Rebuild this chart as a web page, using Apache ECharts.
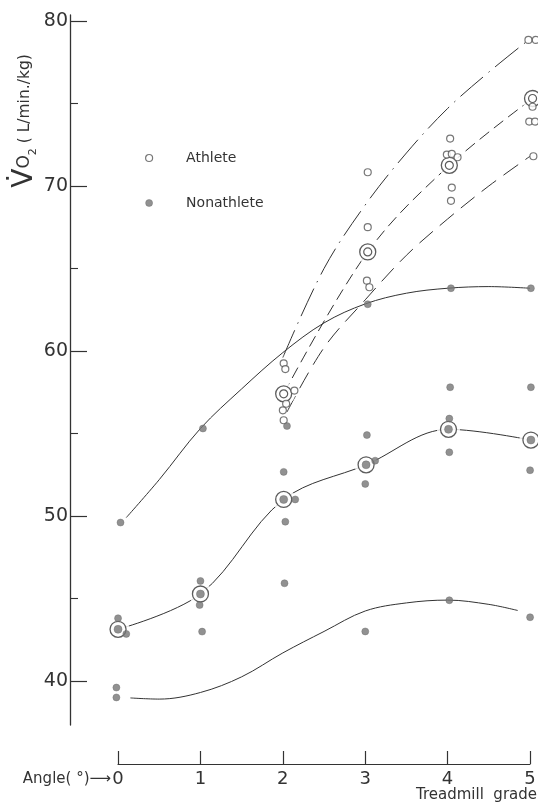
<!DOCTYPE html>
<html><head><meta charset="utf-8">
<script src="https://cdn.jsdelivr.net/npm/echarts@6/dist/echarts.min.js"></script>
<style>html,body{margin:0;padding:0;background:#fff}#c{width:538px;height:803px}</style>
</head><body><div id="c"></div>
<script>
// ---- data ----
const gradeTicks = [0, 1, 2, 3, 4, 5];
const yMajorTicks = [40, 50, 60, 70, 80];
const yMinorTicks = [45, 55, 65, 75];

// Athlete individual values [grade, VO2]
const athletePoints = [
  [2.01, 59.25], [2.03, 58.9], [2.14, 57.6], [2.04, 56.8], [2.0, 56.4], [2.01, 55.8],
  [3.03, 70.83], [3.03, 67.5], [3.02, 64.26], [3.05, 63.86],
  [4.03, 72.87], [3.99, 71.9], [4.05, 71.94], [4.12, 71.74], [4.05, 69.9], [4.04, 69.1],
  [4.98, 78.85], [5.07, 78.85], [5.03, 74.8], [4.99, 73.9], [5.06, 73.9], [5.04, 71.8]
];
const athleteMeans = [[2.01, 57.4], [3.03, 66.0], [4.02, 71.25], [5.03, 75.3]];
const athleteUpper = [[2.0, 59.6], [2.5, 65.0], [3.0, 68.85], [3.5, 72.0], [4.0, 74.7], [4.5, 76.9], [4.97, 78.8]];
const athleteLower = [[2.05, 56.3], [2.5, 60.2], [3.0, 63.1], [3.5, 65.8], [4.0, 68.0], [4.5, 70.0], [5.0, 71.8]];

// Nonathlete individual values [grade, VO2]
const nonathletePoints = [
  [0.03, 49.6], [0.0, 43.8], [0.1, 42.85], [-0.02, 39.6], [-0.02, 39.0],
  [1.03, 55.3], [1.0, 46.06], [0.99, 44.6], [1.02, 42.99], [1.0, 37.03],
  [2.05, 55.45], [2.01, 52.67], [2.15, 51.0], [2.03, 49.65], [2.02, 45.92],
  [3.03, 62.83], [3.02, 54.9], [3.12, 53.35], [3.0, 51.94], [3.0, 43.0],
  [4.04, 63.8], [4.03, 57.8], [4.02, 55.9], [4.02, 53.86], [4.02, 44.89],
  [5.01, 63.8], [5.01, 57.8], [5.0, 52.77], [5.0, 43.86]
];
const nonathleteMeans = [[0.0, 43.13], [1.0, 45.27], [2.01, 51.0], [3.01, 53.1], [4.01, 55.25], [5.01, 54.6]];
const nonathleteUpper = [[0.1, 49.9], [0.5, 52.2], [1.0, 55.3], [1.5, 57.7], [2.0, 59.9], [2.5, 61.7], [3.0, 62.85], [3.5, 63.5], [4.0, 63.8], [4.5, 63.9], [5.0, 63.8]];
const nonathleteLower = [[0.15, 38.97], [0.5, 38.9], [1.0, 39.3], [1.5, 40.25], [2.0, 41.7], [2.5, 43.0], [3.0, 44.24], [3.5, 44.73], [4.0, 44.9], [4.5, 44.64], [4.85, 44.27]];

// ---- chart ----
const FONT = 'DejaVu Sans';
const INK = '#333';
const chart = echarts.init(document.getElementById('c'), null, {renderer: 'canvas'});

function curve(data, type) {
  return {type: 'line', data: data, xAxisIndex: 0, yAxisIndex: 0, smooth: 0.35,
    symbol: 'none', showSymbol: false, silent: true, z: 2,
    lineStyle: {color: INK, width: 1, type: type}};
}
function marks(name, data, size, style, z) {
  return {type: 'scatter', name: name, data: data, xAxisIndex: 0, yAxisIndex: 0,
    symbol: 'circle', symbolSize: size, itemStyle: style, z: z, silent: true};
}
const allMeans = athleteMeans.concat(nonathleteMeans);

chart.setOption({
  animation: false,
  backgroundColor: '#fff',
  grid: [
    {left: 70, top: 15, width: 467, height: 710, outerBoundsMode: 'none'},
    {left: 118, top: 700, width: 412, height: 64, outerBoundsMode: 'none'}
  ],
  xAxis: [
    {type: 'value', gridIndex: 0, min: -0.583, max: 5.084, show: false},
    {type: 'value', gridIndex: 1, min: 0, max: 5, interval: 1,
      axisLine: {show: true, onZero: false, lineStyle: {color: INK, width: 1.2}},
      axisTick: {show: true, inside: true, length: 13, lineStyle: {color: INK, width: 1.2}},
      axisLabel: {fontSize: 18, color: INK, margin: 6, fontFamily: FONT,
        formatter: v => gradeTicks.indexOf(v) >= 0 ? String(v) : ''},
      splitLine: {show: false}}
  ],
  yAxis: [
    {type: 'value', gridIndex: 0, min: 37.33, max: 80.36, position: 'left',
      axisLine: {show: true, onZero: false, lineStyle: {color: INK, width: 1.3}},
      axisTick: {show: true, inside: true, length: 17, customValues: yMajorTicks, lineStyle: {color: INK, width: 1.2}},
      axisLabel: {customValues: yMajorTicks, fontSize: 19, color: INK, margin: 2, fontFamily: FONT},
      splitLine: {show: false}},
    {type: 'value', gridIndex: 0, min: 37.33, max: 80.36, position: 'left', offset: 0,
      axisLine: {show: false, onZero: false},
      axisTick: {show: true, inside: true, length: 8, customValues: yMinorTicks, lineStyle: {color: INK, width: 1.1}},
      axisLabel: {show: false}, splitLine: {show: false}},
    {type: 'value', gridIndex: 1, min: 0, max: 1, show: false}
  ],
  legend: {
    orient: 'vertical', left: 140, top: 146, itemWidth: 64, itemHeight: 7, itemGap: 31,
    selectedMode: false,
    textStyle: {fontSize: 14, color: INK, fontFamily: FONT},
    data: [
      {name: 'Athlete', icon: 'circle', itemStyle: {color: '#fff', borderColor: '#555', borderWidth: 1.2}},
      {name: 'Nonathlete', icon: 'circle', itemStyle: {color: '#757575', borderColor: '#666', borderWidth: 0.5}}
    ]
  },
  graphic: [
    {type: 'text', x: 25, y: 121, rotation: Math.PI / 2,
      style: {text: '{v|V\u0307}{o|O}{s|2}{u| ( L/min./kg)}', align: 'center', verticalAlign: 'middle',
        fill: INK, fontFamily: FONT,
        rich: {
          v: {fontSize: 28, fontFamily: FONT, fill: INK},
          o: {fontSize: 17, fontFamily: FONT, fill: INK},
          s: {fontSize: 11, fontFamily: FONT, fill: INK, verticalAlign: 'bottom'},
          u: {fontSize: 15.5, fontFamily: FONT, fill: INK}
        }}},
    {type: 'text', x: 111, y: 779,
      style: {text: 'Angle( \u00B0)\u27F6', align: 'right', verticalAlign: 'middle', fontSize: 15, fontFamily: FONT, fill: INK}},
    {type: 'text', x: 537, y: 795,
      style: {text: 'Treadmill  grade', align: 'right', verticalAlign: 'middle', fontSize: 15, fontFamily: FONT, fill: INK}}
  ],
  series: [
    curve(nonathleteUpper, 'solid'),
    curve(nonathleteMeans, 'solid'),
    curve(nonathleteLower, 'solid'),
    curve(athleteUpper, [30, 7, 1.5, 7]),
    curve(athleteMeans, [12, 6]),
    curve(athleteLower, [18, 9]),
    marks('halo', allMeans, 23, {color: '#fff'}, 3),
    marks('ring', allMeans, 16, {color: '#fff', borderColor: INK, borderWidth: 1.3}, 4),
    marks('athleteMeanInner', athleteMeans, 8, {color: '#fff', borderColor: INK, borderWidth: 1.2}, 5),
    marks('nonathleteMeanInner', nonathleteMeans, 8, {color: '#757575', borderColor: '#666', borderWidth: 0.5}, 5),
    marks('Athlete', athletePoints, 7, {color: '#fff', borderColor: '#555', borderWidth: 1.2}, 6),
    marks('Nonathlete', nonathletePoints, 7, {color: '#757575', borderColor: '#666', borderWidth: 0.5}, 6)
  ]
});
</script></body></html>
